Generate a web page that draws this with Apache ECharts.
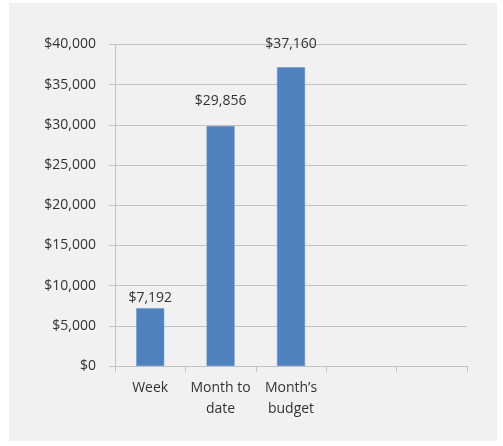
<!DOCTYPE html>
<html>
<head>
<meta charset="utf-8">
<script src="https://cdn.jsdelivr.net/npm/echarts@6/dist/echarts.min.js"></script>
<style>
html,body{margin:0;padding:0;background:#ffffff;}
#bg{position:absolute;left:9px;top:3px;width:488px;height:438px;background:#f1f1f1;}
#chart{position:absolute;left:0;top:0;width:503px;height:446px;}
</style>
</head>
<body>
<div id="bg"></div>
<div id="chart"></div>
<script>
var categories = ['Week', 'Month to\ndate', 'Month\u2019s\nbudget', '', ''];
var values = [7192, 29856, 37160, null, null];
var labelLift = [3, 18, 16, 0, 0];
var yTicks = { min: 0, max: 40000, interval: 5000 };

var chart = echarts.init(document.getElementById('chart'), null, { renderer: 'canvas' });
var FONT = 'Open Sans';
var TXT = '#333333';
var LINE = '#c3c3c3';

var data = values.map(function (v, i) {
  return { value: v, label: { distance: labelLift[i] } };
});

chart.setOption({
  backgroundColor: 'transparent',
  animation: false,
  grid: { left: 115, right: 36, top: 44.5, bottom: 80, containLabel: false },
  xAxis: {
    type: 'category',
    data: categories,
    boundaryGap: true,
    axisLine: { show: true, lineStyle: { color: LINE, width: 1 } },
    axisTick: { show: true, length: 6, lineStyle: { color: LINE } },
    axisLabel: { color: TXT, fontFamily: FONT, fontSize: 14, margin: 12, lineHeight: 21, interval: 0 },
    splitLine: { show: false }
  },
  yAxis: {
    type: 'value',
    min: yTicks.min,
    max: yTicks.max,
    interval: yTicks.interval,
    axisLine: { show: true, lineStyle: { color: LINE, width: 1 } },
    axisTick: { show: true, length: 6, lineStyle: { color: LINE } },
    axisLabel: {
      color: TXT, fontFamily: FONT, fontSize: 14, margin: 19,
      formatter: function (v) { return '$' + v.toLocaleString('en-US'); }
    },
    splitLine: { show: true, lineStyle: { color: LINE, width: 1 } }
  },
  series: [{
    type: 'bar',
    data: data,
    barWidth: 28,
    itemStyle: { color: '#4f81bd', borderColor: '#6b95c8', borderWidth: 0.5 },
    label: {
      show: true,
      position: 'top',
      color: TXT,
      fontFamily: FONT,
      fontSize: 14,
      formatter: function (p) { return p.value == null ? '' : '$' + p.value.toLocaleString('en-US'); }
    }
  }]
});
</script>
</body>
</html>
